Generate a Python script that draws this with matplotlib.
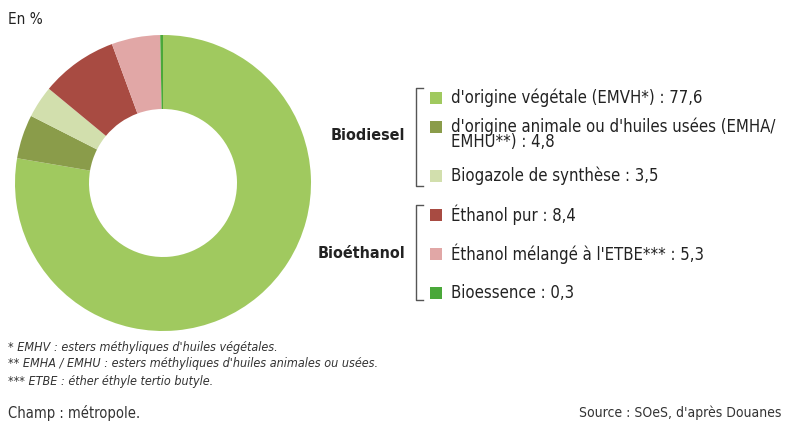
import matplotlib.pyplot as plt
from matplotlib.patches import Rectangle
from matplotlib.lines import Line2D

# parts of biofuels consumption, in %
labels = ["d'origine végétale (EMVH*) : 77,6",
          "d'origine animale ou d'huiles usées (EMHA/\nEMHU**) : 4,8",
          "Biogazole de synthèse : 3,5",
          "Éthanol pur : 8,4",
          "Éthanol mélangé à l'ETBE*** : 5,3",
          "Bioessence : 0,3"]
values = [77.6, 4.8, 3.5, 8.4, 5.3, 0.3]
colors = ['#a0c95f', '#8a9c4a', '#d2dfad', '#a84b42', '#e1a7a6', '#4aa83a']
groups = ['Biodiesel', 'Bioéthanol']

W, H = 789, 424
fig = plt.figure(figsize=(W / 100, H / 100), dpi=100)
plt.rcParams['font.family'] = ['DejaVu Sans']
plt.rcParams['font.stretch'] = 'condensed'

# donut
cx, cy, r = 163, 183, 148
ax = fig.add_axes([(cx - r) / W, (H - cy - r) / H, 2 * r / W, 2 * r / H])
ax.pie(values, colors=colors, startangle=90, counterclock=False,
       wedgeprops=dict(width=0.5, linewidth=0))
ax.set_aspect('equal')
ax.set_xlim(-1, 1)
ax.set_ylim(-1, 1)

def px(x, y):
    return x / W, 1 - y / H

# legend
rows_y = [98, 127, 176, 215, 254, 293]
text_y = [98, 134, 176, 215, 254, 293]
for i in range(len(values)):
    x0, y0 = px(430, rows_y[i] + 6)
    fig.patches.append(Rectangle((x0, y0), 12 / W, 12 / H, transform=fig.transFigure,
                                 facecolor=colors[i], edgecolor='none'))
    tx, ty = px(451, text_y[i])
    fig.text(tx, ty, labels[i], fontsize=12, color='#222222', va='center', ha='left',
             linespacing=0.82, fontstretch='condensed')

# brackets
for (y1, y2) in [(88, 186), (205, 300)]:
    xs = [423 / W, 416 / W, 416 / W, 423 / W]
    ys = [1 - y1 / H, 1 - y1 / H, 1 - y2 / H, 1 - y2 / H]
    fig.lines.append(Line2D(xs, ys, transform=fig.transFigure, color='#555555', lw=1))

gx, gy = px(405, 136)
fig.text(gx, gy, groups[0], fontsize=11.5, fontweight='bold', ha='right', va='center',
         color='#222222', fontstretch='condensed')
gx, gy = px(405, 253)
fig.text(gx, gy, groups[1], fontsize=11.5, fontweight='bold', ha='right', va='center',
         color='#222222', fontstretch='condensed')

# texts
fig.text(*px(8, 20), 'En %', fontsize=11, va='center', color='#222222', fontstretch='condensed')
notes = ["* EMHV : esters méthyliques d'huiles végétales.",
         "** EMHA / EMHU : esters méthyliques d'huiles animales ou usées.",
         "*** ETBE : éther éthyle tertio butyle."]
for i, n in enumerate(notes):
    fig.text(*px(8, 347 + 17 * i), n, fontsize=9, style='italic', va='center',
             color='#333333', fontstretch='condensed')
fig.text(*px(8, 413), 'Champ : métropole.', fontsize=10.5, va='center', color='#333333',
         fontstretch='condensed')
fig.text(*px(781, 413), "Source : SOeS, d'après Douanes", fontsize=10, va='center',
         ha='right', color='#333333', fontstretch='condensed')

fig.savefig('out.png', dpi=100)
